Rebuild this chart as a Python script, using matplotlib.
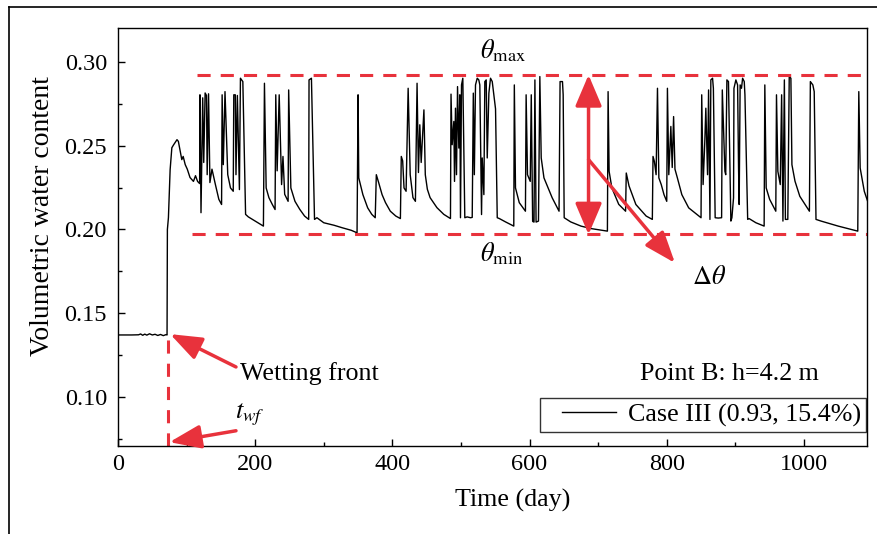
import matplotlib
matplotlib.use('Agg')
import matplotlib.pyplot as plt
from matplotlib.lines import Line2D
from matplotlib.legend_handler import HandlerLine2D
from matplotlib.ticker import MultipleLocator, FormatStrFormatter

plt.rcParams['font.family'] = 'Liberation Serif'
plt.rcParams['mathtext.fontset'] = 'stix'

# monitoring record at point B (time in days, volumetric water content)
day = [0, 20, 30, 33, 36, 39, 42, 46, 50, 54, 58, 62, 66, 70, 71.5, 72, 73.5, 76, 78.5, 81,
       86, 88, 93, 95, 98, 101, 105, 110, 113, 116, 119, 119.5, 121, 123.5, 125, 127, 129, 130, 132, 134,
       137, 142, 147, 151, 151.8, 153.5, 156, 160, 164, 168, 168.8, 171, 172, 174, 177, 178.5, 182, 186, 190, 200,
       212, 213.5, 216, 220, 225, 229, 230, 232, 235, 238.5, 240.5, 243, 248, 248.8, 252, 258, 265, 272, 278, 278.5,
       282, 286.5, 290, 300, 315, 327, 340, 348.5, 350, 351, 357, 364, 370, 375, 376.6, 380, 385, 390, 397, 405,
       411.7, 413, 415, 417, 420, 423, 426, 430, 433.6, 436, 438, 440, 442, 446, 448, 451, 455, 465, 475, 484.7,
       485.5, 487.2, 489.6, 490.6, 492, 493.5, 495, 496.9, 498.4, 499.3, 500.8, 502.7, 505.6, 509, 514, 516.4, 518, 519.5, 521.2, 523.7,
       526, 527.5, 530, 531, 533.4, 534.8, 536.8, 538.3, 540.7, 543.1, 545.6, 548, 550.4, 552.9, 556, 565, 577, 577.8, 579.5, 585,
       594, 595, 597, 601, 602.5, 604.5, 606.5, 607.8, 609.5, 613, 615, 617, 621, 633, 643, 644.5, 648, 649, 650.5, 660,
       675, 690, 713.5, 714.5, 716, 720, 730, 740, 741, 745, 755, 770, 779, 780, 782, 784.5, 786.5, 788.5, 792, 796,
       800, 801, 803, 806, 808, 810, 812, 815.5, 822, 832, 850, 851, 853, 855.5, 857, 859.5, 861, 863, 864.3, 866.8,
       868, 870.6, 875, 880, 881, 884.8, 886, 887.7, 890, 893.5, 895, 897.4, 898, 900.8, 903.3, 904.7, 905.6, 907, 909, 910.6,
       913, 914, 918, 920, 930, 942, 943, 945, 950, 959, 960, 962, 965.5, 967.5, 969.4, 971.5, 973, 976.5, 978.6, 981,
       982.5, 987, 994, 1008, 1009.4, 1013, 1015, 1017.6, 1025, 1050, 1078.5, 1080, 1082, 1088, 1094.5]
vwc = [.1370, .1370, .1371, .1376, .1368, .1375, .1369, .1377, .1370, .1374, .1367, .1373, .1366, .1372, .1370, .2000, .2070, .2357, .2488, .2505,
       .2536, .2526, .2417, .2436, .2387, .2360, .2310, .2287, .2321, .2287, .2274, .2804, .2100, .2786, .2400, .2815, .2800, .2327, .2810, .2280,
       .2360, .2268, .2180, .2149, .2804, .2387, .2823, .2327, .2248, .2228, .2804, .2804, .2327, .2800, .2238, .2903, .2883, .2090, .2075, .2050,
       .2020, .2873, .2248, .2190, .2149, .2119, .2804, .2350, .2804, .2268, .2436, .2210, .2168, .2833, .2248, .2168, .2120, .2080, .2060, .2893,
       .2903, .2060, .2070, .2040, .2025, .2010, .1995, .1980, .2804, .2308, .2208, .2129, .2090, .2070, .2327, .2280, .2208, .2160, .2109, .2080,
       .2065, .2436, .2410, .2248, .2228, .2843, .2327, .2190, .2168, .2873, .2340, .2625, .2400, .2714, .2327, .2240, .2190, .2130, .2090, .2065,
       .2808, .2506, .2645, .2287, .2724, .2327, .2853, .2486, .2804, .2070, .2863, .2903, .2070, .2075, .2070, .2072, .2814, .2327, .2863, .2903,
       .2893, .2863, .2089, .2427, .2208, .2883, .2893, .2427, .2814, .2903, .2883, .2804, .2720, .2070, .2065, .2045, .2020, .2863, .2248, .2160,
       .2109, .2804, .2327, .2287, .2804, .2048, .2044, .2893, .2044, .2050, .2913, .2427, .2308, .2189, .2109, .2883, .2883, .2804, .2070, .2045,
       .2020, .2005, .1990, .2823, .2347, .2248, .2150, .2109, .2337, .2260, .2149, .2080, .2060, .2436, .2406, .2327, .2843, .2308, .2268, .2208,
       .2168, .2843, .2327, .2615, .2370, .2674, .2360, .2308, .2208, .2129, .2070, .2804, .2268, .2526, .2724, .2327, .2833, .2060, .2893, .2903,
       .2843, .2070, .2068, .2070, .2833, .2347, .2327, .2893, .2883, .2050, .2070, .2189, .2843, .2893, .2863, .2367, .2149, .2863, .2843, .2903,
       .2883, .2804, .2060, .2065, .2040, .2020, .2863, .2248, .2180, .2109, .2804, .2347, .2268, .2804, .2050, .2893, .2060, .2060, .2913, .2903,
       .2387, .2288, .2198, .2109, .2883, .2863, .2823, .2060, .2050, .2020, .1990, .2823, .2367, .2228, .2149]

theta_max = 0.2923
theta_min = 0.1970
t_wf = 73
red = '#e8323c'

fig = plt.figure(figsize=(8.78, 5.34), dpi=100)
ax = fig.add_axes([0.1344, 0.1648, 0.8531, 0.7828])

ax.plot(day, vwc, '-', color='black', lw=1.0, label='Case III (0.93, 15.4%)')

# bounds of the fluctuation
ax.plot([115, 1095], [theta_max, theta_max], color=red, lw=2.2, ls=(0, (4.3, 3.3)))
ax.plot([108, 1095], [theta_min, theta_min], color=red, lw=2.2, ls=(0, (4.3, 3.3)))
ax.plot([t_wf, t_wf], [0.0707, 0.136], color=red, lw=2.2, ls=(0, (4.3, 3.3)))

head = dict(color=red, lw=2.5, mutation_scale=24, shrinkA=0, shrinkB=0)
ax.annotate('', xy=(686, theta_max), xytext=(686, theta_min),
            arrowprops=dict(arrowstyle='<|-|>,head_length=0.8,head_width=0.34', **head))
ax.annotate('', xy=(812, 0.1800), xytext=(686, 0.2417),
            arrowprops=dict(arrowstyle='-|>,head_length=0.8,head_width=0.3', **head))
ax.annotate('', xy=(76, 0.1375), xytext=(172, 0.1179),
            arrowprops=dict(arrowstyle='-|>,head_length=0.8,head_width=0.3', **head))
ax.annotate('', xy=(75, 0.0730), xytext=(172, 0.0798),
            arrowprops=dict(arrowstyle='-|>,head_length=0.8,head_width=0.3', **head))

ax.text(528, 0.3024, r'$\theta_{\rm max}$', fontsize=19, va='baseline')
ax.text(528, 0.1810, r'$\theta_{\rm min}$', fontsize=19, va='baseline')
ax.text(837, 0.1673, r'$\Delta\theta$', fontsize=19, va='baseline')
ax.text(171, 0.0869, r'$t_{wf}$', fontsize=19, va='baseline')
ax.text(178, 0.1137, 'Wetting front', fontsize=18.7, va='center')
ax.text(761, 0.1137, 'Point B: h=4.2 m', fontsize=18.7, va='center')

ax.set_xlim(0, 1092)
ax.set_ylim(0.0707, 0.3203)
ax.xaxis.set_major_locator(MultipleLocator(200))
ax.xaxis.set_minor_locator(MultipleLocator(100))
ax.yaxis.set_major_locator(MultipleLocator(0.05))
ax.yaxis.set_minor_locator(MultipleLocator(0.025))
ax.yaxis.set_major_formatter(FormatStrFormatter('%.2f'))
ax.tick_params(which='both', direction='in', labelsize=17.5, width=1)
ax.tick_params(which='major', length=5)
ax.tick_params(which='minor', length=3)
ax.tick_params(axis='y', pad=8)
ax.tick_params(axis='x', pad=6)
for s in ax.spines.values():
    s.set_linewidth(1.0)

fig.text(513 / 878, 1 - 500 / 534, 'Time (day)', fontsize=18.7, ha='center', va='center')
fig.text(43 / 878, 1 - 216 / 534, 'Volumetric water content', fontsize=20,
         rotation=90, ha='center', va='center')

leg = ax.legend(loc='lower right', bbox_to_anchor=(0.999, 0.034), borderaxespad=0,
                fontsize=18.7, frameon=True, fancybox=False, handlelength=2.72,
                handletextpad=0.45, borderpad=0.2,
                handler_map={Line2D: HandlerLine2D(xpad=0.62)})
leg.get_frame().set_edgecolor('black')
leg.get_frame().set_linewidth(1.0)

# outer frame around the panel
fig.add_artist(Line2D([8.5 / 878, 8.5 / 878], [0, 1 - 7 / 534], color='black', lw=1.2))
fig.add_artist(Line2D([8.5 / 878, 1], [1 - 7 / 534, 1 - 7 / 534], color='black', lw=1.2))

fig.savefig('out.png', dpi=100)
